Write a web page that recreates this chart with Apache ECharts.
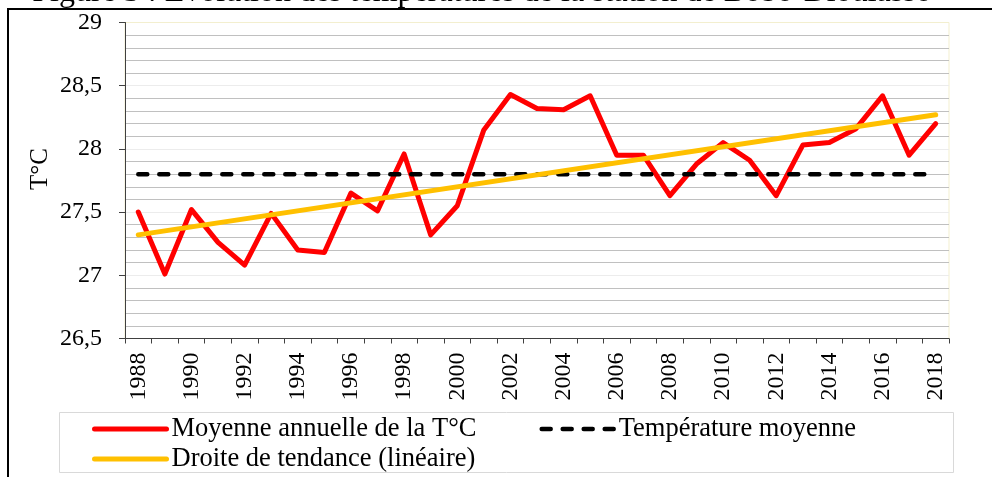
<!DOCTYPE html>
<html><head><meta charset="utf-8">
<script src="https://cdn.jsdelivr.net/npm/echarts@6/dist/echarts.min.js"></script>
<style>html,body{margin:0;padding:0;background:#fff}#c{width:992px;height:477px}</style>
</head><body><div id="c"></div>
<script>
const years = ['1988','1989','1990','1991','1992','1993','1994','1995','1996','1997','1998','1999','2000','2001','2002','2003','2004','2005','2006','2007','2008','2009','2010','2011','2012','2013','2014','2015','2016','2017','2018'];
const annualMean = [27.50,27.01,27.52,27.26,27.08,27.49,27.20,27.18,27.65,27.51,27.96,27.32,27.55,28.15,28.43,28.32,28.31,28.42,27.95,27.95,27.63,27.88,28.05,27.91,27.63,28.03,28.05,28.16,28.42,27.95,28.20];
const meanYears = ['1988','2018'];
const meanValues = [27.80, 27.80];
const trendYears = ['1988','2018'];
const trendValues = [27.32, 28.27];
const seriesNames = ['Moyenne annuelle de la T°C','Température moyenne','Droite de tendance (linéaire)'];
const titleText = 'Figure 3 : Evolution des températures de la station de Bobo-Dioulasso';
const yName = 'T°C';

const FF = '"Liberation Serif", "Times New Roman", serif';
const chart = echarts.init(document.getElementById('c'), null, {renderer:'canvas'});
const legendCommon = {padding:0, itemWidth:72, itemHeight:14, itemGap:63,
  itemStyle:{opacity:0}, lineStyle:{width:'inherit', cap:'round'},
  textStyle:{fontFamily:FF, fontSize:26.5, color:'#000'}};
chart.setOption({
  animation: false,
  backgroundColor: '#fff',
  grid: {left:125, right:43, top:22.5, bottom:138.5, show:true, borderColor:'#f3efcf', borderWidth:1, backgroundColor:'transparent'},
  graphic: [
    {type:'text', x:482, y:-7, z:10, style:{text:titleText, font:'32px '+FF, fill:'#000', textAlign:'center', textVerticalAlign:'middle', align:'center', verticalAlign:'middle'}},
    {type:'line', z:10, shape:{x1:7, y1:9, x2:992, y2:9}, style:{stroke:'#000', lineWidth:2}},
    {type:'line', z:10, shape:{x1:8, y1:8, x2:8, y2:477}, style:{stroke:'#000', lineWidth:2}},
    {type:'rect', z:0, shape:{x:59.5, y:412.5, width:894, height:60}, style:{fill:'none', stroke:'#d9d9d9', lineWidth:1}},
    {type:'text', x:40, y:169, rotation:Math.PI/2, z:10, style:{text:yName, font:'25px '+FF, fill:'#000', textAlign:'center', textVerticalAlign:'middle', align:'center', verticalAlign:'middle'}}
  ],
  legend: [
    Object.assign({left:92, top:415.5, data:[seriesNames[0], seriesNames[1]]}, legendCommon),
    Object.assign({left:92, top:445.5, data:[seriesNames[2]]}, legendCommon)
  ],
  xAxis: {
    type:'category', data:years, boundaryGap:true,
    axisLine:{lineStyle:{color:'#404040', width:1}},
    axisTick:{show:true, interval:0, length:5, lineStyle:{color:'#404040'}},
    axisLabel:{interval:1, rotate:90, fontFamily:FF, fontSize:24, color:'#000', margin:14},
    splitLine:{show:false}
  },
  yAxis: {
    type:'value', min:26.5, max:29, interval:0.5,
    axisLine:{show:true, lineStyle:{color:'#404040', width:1}},
    axisTick:{show:true, length:6, lineStyle:{color:'#404040'}},
    axisLabel:{fontFamily:FF, fontSize:24, color:'#000', margin:23, formatter:v => String(v).replace('.', ',')},
    splitLine:{show:true, lineStyle:{color:['#ececec','#ececec','#ececec','#ececec','#ececec','#f3efcf'], width:1}},
    minorTick:{show:false, splitNumber:5},
    minorSplitLine:{show:true, lineStyle:{color:'#c0c0c0', width:1}}
  },
  series: [
    {name:seriesNames[0], type:'line', data:annualMean, symbol:'none', z:2,
     itemStyle:{color:'#ff0000'},
     lineStyle:{color:'#ff0000', width:5, cap:'round', join:'round'}},
    {name:seriesNames[1], type:'line', data:meanYears.map((y,i)=>[y, meanValues[i]]), symbol:'none', z:3,
     itemStyle:{color:'#000'},
     lineStyle:{color:'#000', width:4.5, type:[9,12], cap:'round'}},
    {name:seriesNames[2], type:'line', data:trendYears.map((y,i)=>[y, trendValues[i]]), symbol:'none', z:4,
     itemStyle:{color:'#ffc000'},
     lineStyle:{color:'#ffc000', width:5, cap:'round'}}
  ]
});
</script></body></html>
